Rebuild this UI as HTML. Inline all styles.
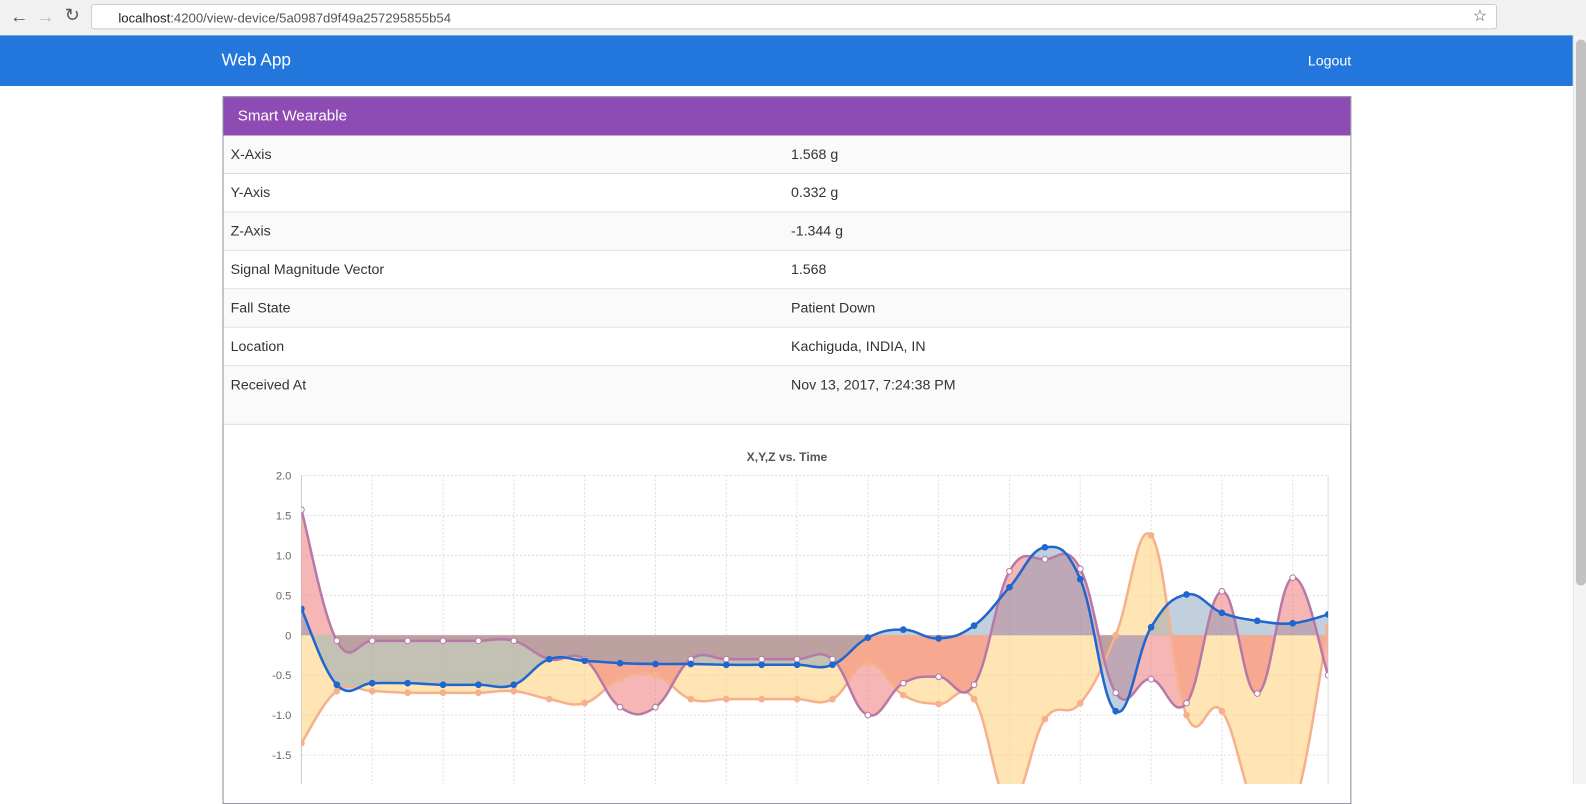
<!DOCTYPE html>
<html><head><meta charset="utf-8">
<style>
body{margin:0;width:1586px;height:775px;overflow:hidden;background:#fff;font-family:"Liberation Sans",sans-serif;position:relative}
#wrap{position:absolute;left:0;top:0;width:1568px;height:770px;transform:scale(1.0115);transform-origin:0 0}
.chrome{position:absolute;left:0;top:0;width:1568px;height:35px;background:#f1f1f1;border-bottom:1px solid #ccc}
.addr{position:absolute;left:90px;top:4px;width:1390px;height:25px;background:#fff;border:1px solid #ccc;border-radius:3px;font-size:13px;line-height:25px;color:#555;box-sizing:border-box;padding-left:26px}
.nav{position:absolute;left:0;top:35px;width:1555px;height:50px;background:#2377dc;color:#fff}
.scroll{position:absolute;left:1555px;top:35px;width:14px;height:740px;background:#f4f4f4;border-left:1px solid #e4e4e4}
.card{position:absolute;left:220px;top:95px;width:1116px;height:700px;border:1px solid #8b8b9b;box-sizing:border-box}
.hdr{height:38px;background:#8e4bb3;color:#fff;font-size:15px;line-height:38px;padding-left:14px}
.row{height:37px;border-bottom:1px solid #ddd;font-size:14px;line-height:37px;color:#333;position:relative;background:#fafafa}
.row span{position:absolute;left:7px}.row span+span{left:561px}
</style></head><body>
<div id="wrap">
<div class="chrome">
<span style="position:absolute;left:10px;top:6px;font-size:18px;color:#555">←</span>
<span style="position:absolute;left:36px;top:6px;font-size:18px;color:#bbb">→</span>
<span style="position:absolute;left:64px;top:5px;font-size:18px;color:#555">↻</span>
<div class="addr"><b style="color:#222;font-weight:normal">localhost</b>:4200/view-device/5a0987d9f49a257295855b54</div>
<span style="position:absolute;left:1456px;top:6px;font-size:16px;color:#555">☆</span>
</div>
<div class="nav">
<span style="position:absolute;left:219px;top:15px;font-size:17px">Web App</span>
<span style="position:absolute;left:1293px;top:17px;font-size:14px">Logout</span>
</div>
<div class="scroll"><div style="margin:4px 2px;height:540px;background:#c1c1c1;border-radius:5px"></div></div>
<div class="card">
<div class="hdr">Smart Wearable</div>
<div class="row"><span>X-Axis</span><span>1.568 g</span></div>
<div class="row" style="background:#fff"><span>Y-Axis</span><span>0.332 g</span></div>
<div class="row"><span>Z-Axis</span><span>-1.344 g</span></div>
<div class="row" style="background:#fff"><span>Signal Magnitude Vector</span><span>1.568</span></div>
<div class="row"><span>Fall State</span><span>Patient Down</span></div>
<div class="row" style="background:#fff"><span>Location</span><span>Kachiguda, INDIA, IN</span></div>
<div class="row" style="height:57px;border-bottom:1px solid #ddd"><span>Received At</span><span>Nov 13, 2017, 7:24:38 PM</span></div>
</div>
<svg id="chart" style="position:absolute;left:0;top:0" width="1555" height="775">
<text x="778" y="456" text-anchor="middle" font-size="12" font-weight="bold" fill="#555">X,Y,Z vs. Time</text>
<g id="grid"></g><g id="fills"></g><g id="lines"></g><g id="ticks"></g>
</svg>
</div>
<script>
const xVals=[1.57,-0.07,-0.07,-0.07,-0.07,-0.07,-0.07,-0.3,-0.3,-0.9,-0.9,-0.3,-0.3,-0.3,-0.3,-0.3,-1.0,-0.6,-0.52,-0.62,0.8,0.95,0.83,-0.72,-0.55,-0.85,0.55,-0.73,0.72,-0.5];
const yVals=[0.33,-0.62,-0.6,-0.6,-0.62,-0.62,-0.62,-0.3,-0.32,-0.35,-0.36,-0.36,-0.37,-0.37,-0.37,-0.37,-0.03,0.07,-0.04,0.12,0.6,1.1,0.7,-0.95,0.1,0.51,0.28,0.18,0.15,0.26];
const zVals=[-1.35,-0.7,-0.7,-0.72,-0.72,-0.72,-0.7,-0.8,-0.85,-0.55,-0.5,-0.8,-0.8,-0.8,-0.8,-0.8,-0.35,-0.75,-0.86,-0.8,-2.1,-1.05,-0.85,0.0,1.25,-1.0,-0.95,-2.2,-2.2,0.1];
const yTicks=[2.0,1.5,1.0,0.5,0,-0.5,-1.0,-1.5];
const yTickLabels=["2.0","1.5","1.0","0.5","0","-0.5","-1.0","-1.5"];
const L=298,R=1313,Y0=628,U=79;
const n=xVals.length;
const sx=i=>L+i*(R-L)/(n-1), sy=v=>Y0-v*U;
const NS="http://www.w3.org/2000/svg";
function mk(tag,at,parent){const e=document.createElementNS(NS,tag);for(const k in at)e.setAttribute(k,at[k]);parent.appendChild(e);return e;}
const grid=document.getElementById('grid'),ticks=document.getElementById('ticks');
yTicks.forEach((t,k)=>{
 const gl=mk('line',{x1:L,x2:R,y1:sy(t),y2:sy(t),stroke:'#ddd','stroke-dasharray':'2,2'},grid);
 
 
 const tx=mk('text',{x:288,y:sy(t)+4,'text-anchor':'end','font-size':'11',fill:'#666'},ticks);
 tx.textContent=yTickLabels[k];
 
 
});
for(let i=0;i<n;i+=2){
 const vl=mk('line',{x1:sx(i),x2:sx(i),y1:sy(2),y2:790,stroke:'#ddd','stroke-dasharray':'2,2'},grid);
 
 
}
mk('line',{x1:R,x2:R,y1:sy(2),y2:790,stroke:'#ddd'},grid);
mk('line',{x1:L,x2:L,y1:sy(2),y2:790,stroke:'#ccc'},grid);
function curve(vals){
 const p=vals.map((v,i)=>[sx(i),sy(v)]);let d='M'+p[0][0]+','+p[0][1];
 for(let i=0;i<p.length-1;i++){const p0=p[Math.max(0,i-1)],p1=p[i],p2=p[i+1],p3=p[Math.min(p.length-1,i+2)],t=0.4;
  const c1=[p1[0]+(p2[0]-p0[0])*t/2,p1[1]+(p2[1]-p0[1])*t/2],c2=[p2[0]-(p3[0]-p1[0])*t/2,p2[1]-(p3[1]-p1[1])*t/2];
  d+=` C${c1[0]},${c1[1]} ${c2[0]},${c2[1]} ${p2[0]},${p2[1]}`;}
 return d;}
const series=[
 {name:'z',vals:zVals,fill:'rgba(255,214,140,0.65)',stroke:'#f7b08c',dot:'#f7b08c'},
 {name:'x',vals:xVals,fill:'rgba(240,110,110,0.5)',stroke:'#b77aa8',dot:'#fff'},
 {name:'y',vals:yVals,fill:'rgba(120,150,180,0.45)',stroke:'#1f66cf',dot:'#1f66cf'}];
const fills=document.getElementById('fills'),lines=document.getElementById('lines');
mk('clipPath',{id:'cp'},document.getElementById('chart'));
mk('rect',{x:L,y:sy(2),width:R-L,height:400},document.getElementById('cp'));
series.forEach(s=>{
 const d=curve(s.vals);
 const f=mk('path',{d:d+` L${sx(n-1)},${Y0} L${sx(0)},${Y0} Z`,fill:s.fill,'clip-path':'url(#cp)'},fills);
 
 
 const l=mk('path',{d:d,fill:'none',stroke:s.stroke,'stroke-width':'2.5','clip-path':'url(#cp)'},lines);
 
 
 s.vals.forEach((v,i)=>{
  const c=mk('circle',{cx:sx(i),cy:sy(v),r:2.8,fill:s.dot,stroke:s.stroke,'stroke-width':'1','clip-path':'url(#cp)'},lines);
  
  
 });
});
</script>
</body></html>
